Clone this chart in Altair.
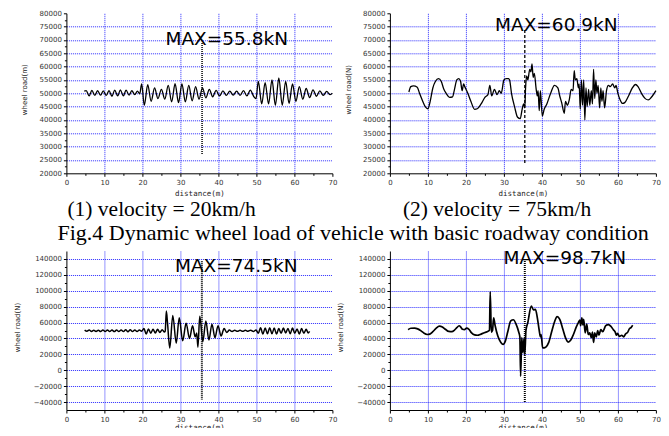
import altair as alt
import pandas as pd

# ---------------- data ----------------
X_TICKS = [0, 10, 20, 30, 40, 50, 60, 70]
X_MINOR = [5, 15, 25, 35, 45, 55, 65]
Y_TICKS_TOP = [20000, 25000, 30000, 35000, 40000, 45000, 50000, 55000,
               60000, 65000, 70000, 75000, 80000]
Y_MINOR_TOP = [22500, 27500, 32500, 37500, 42500, 47500, 52500, 57500,
               62500, 67500, 72500, 77500]
Y_TICKS_BOT = [-40000, -20000, 0, 20000, 40000, 60000, 80000, 100000,
               120000, 140000]
Y_MINOR_BOT = [-30000, -10000, 10000, 30000, 50000, 70000, 90000, 110000,
               130000]

# (1) velocity = 20km/h
s1 = [(4.7, 50800), (5.2, 51000), (6.0, 49000), (6.7, 51100), (7.5, 49200),
      (8.2, 51000), (9.0, 49300), (9.7, 50900), (10.5, 49200), (11.2, 51000),
      (12.0, 48900), (12.7, 51200), (13.5, 49000), (14.2, 51300), (15.0, 49000),
      (15.7, 51200), (16.5, 49300), (17.2, 51000), (18.0, 49500), (18.7, 50800),
      (19.3, 49800), (19.8, 53500), (20.5, 45500), (21.4, 53200), (22.3, 47000),
      (23.2, 52000), (24.1, 48000), (25.0, 51500), (25.9, 47800), (26.8, 53000),
      (27.7, 46800), (28.6, 53600), (29.5, 46500), (30.4, 53500), (31.3, 46800),
      (32.2, 53000), (33.1, 47200), (34.0, 52500), (34.9, 47800), (35.8, 52000),
      (36.7, 48300), (37.6, 51500), (38.5, 48700), (39.4, 51100), (40.3, 49000),
      (41.2, 50900), (42.1, 49200), (43.0, 50800), (43.9, 49300), (44.8, 50800),
      (45.7, 49200), (46.6, 51000), (47.5, 49000), (48.4, 51200), (49.3, 48800),
      (49.9, 48000), (50.5, 54500), (51.4, 46000), (52.3, 54000), (53.2, 46000),
      (54.1, 55000), (55.0, 45500), (55.9, 55800), (56.8, 45500), (57.7, 54500),
      (58.6, 46200), (59.5, 53500), (60.4, 47000), (61.3, 52500), (62.2, 47800),
      (63.1, 51800), (64.0, 48400), (64.9, 51300), (65.8, 48900), (66.7, 50900),
      (67.6, 49200), (68.5, 50700), (69.4, 49500), (70.0, 50000)]

# (2) velocity = 75km/h
s2 = [(5.0, 50500), (5.5, 52500), (6.2, 52800), (7.2, 52300), (7.8, 50000),
      (8.5, 47500), (9.3, 45000), (10.0, 44200), (10.6, 47000), (11.3, 52000),
      (12.0, 54500), (12.8, 55500), (13.5, 54500), (14.2, 51500), (14.8, 50000),
      (15.7, 48500), (16.5, 48700), (17.0, 51500), (17.6, 55000), (18.1, 55500),
      (18.6, 54500), (19.0, 51000), (19.4, 53500), (19.7, 52500), (20.5, 50000),
      (21.3, 47000), (22.3, 44000), (23.0, 44200), (24.0, 46000), (25.0, 48500),
      (25.8, 49500), (26.3, 53000), (26.8, 49000), (27.5, 51500), (28.2, 49500),
      (28.8, 51000), (29.3, 50000), (30.0, 55000), (30.6, 55500), (31.2, 55500),
      (31.5, 55000), (32.0, 50000), (32.8, 45000), (33.6, 41000), (34.3, 40500),
      (34.8, 44000), (35.2, 46000), (35.5, 44500), (35.7, 52000), (36.0, 56500),
      (36.3, 55000), (36.8, 59000), (37.1, 58000), (37.4, 61000), (37.7, 56000),
      (38.0, 57500), (38.5, 51500), (38.8, 49000), (39.0, 51000), (39.3, 43500),
      (39.6, 51000), (40.1, 41500), (40.6, 44000), (41.3, 46000), (42.3, 50000),
      (43.3, 53000), (44.2, 52000), (44.7, 49000), (45.2, 46500), (45.9, 42500),
      (46.2, 47000), (46.7, 45500), (47.2, 47500), (47.7, 51500), (48.2, 51000),
      (48.5, 58500), (48.8, 55000), (49.2, 55500), (49.6, 52000), (49.8, 53500),
      (50.1, 44000), (50.4, 55000), (50.7, 45500), (51.0, 55000), (51.3, 40000),
      (51.6, 52000), (51.9, 45000), (52.3, 51500), (52.6, 45500), (53.0, 51000),
      (53.3, 46000), (53.6, 59000), (53.9, 48000), (54.2, 55000), (54.5, 50000),
      (54.8, 53000), (55.2, 44500), (55.5, 52000), (55.8, 47000), (56.1, 51000),
      (56.5, 44500), (57.0, 51000), (57.5, 53000), (58.0, 52500), (58.6, 53500),
      (59.2, 52000), (59.5, 53000), (60.0, 50000), (60.6, 47500), (61.2, 46200),
      (61.8, 46500), (62.8, 49000), (63.8, 52000), (64.6, 53300), (65.3, 52500),
      (66.2, 50000), (67.2, 48000), (68.0, 47500), (68.8, 48500), (70.0, 51000)]

# (3) lower left
s3 = [(4.8, 50500), (5.4, 49000), (6.0, 50500), (6.6, 48800), (7.2, 50300),
      (7.8, 48800), (8.4, 50400), (9.0, 48700), (9.6, 50500), (10.2, 48800),
      (10.8, 50600), (11.4, 48700), (12.0, 50500), (12.6, 48600), (13.2, 50500),
      (13.8, 48700), (14.4, 50700), (15.0, 48600), (15.6, 50800), (16.2, 48500),
      (16.8, 50800), (17.4, 48600), (18.0, 50700), (18.6, 48700), (19.2, 50600),
      (19.8, 49000), (20.4, 52500), (21.0, 45500), (21.6, 52000), (22.2, 46500),
      (22.8, 51500), (23.4, 47000), (24.0, 51500), (24.6, 47500), (25.2, 51000),
      (25.8, 48000), (26.0, 49000), (26.3, 74500), (26.6, 60000), (27.2, 28000),
      (28.0, 69000), (28.9, 34000), (29.7, 66000), (30.6, 37000), (31.5, 59000),
      (32.4, 40000), (33.2, 56000), (33.9, 42000), (34.3, 47000), (34.6, 29000),
      (35.1, 68000), (35.9, 36000), (36.7, 62000), (37.5, 38000), (38.3, 58000),
      (39.1, 41000), (39.9, 56000), (40.7, 43000), (41.5, 52500), (42.2, 47500),
      (42.9, 50500), (43.6, 48800), (44.3, 50300), (45.0, 49000), (45.7, 50200),
      (46.4, 49000), (47.1, 50300), (47.8, 49000), (48.5, 50400), (49.2, 48800),
      (49.9, 50600), (50.5, 46500), (51.1, 53500), (51.7, 45500), (52.3, 53000),
      (52.9, 46000), (53.5, 53500), (54.1, 46000), (54.7, 53000), (55.3, 45500),
      (55.9, 52500), (56.5, 46500), (57.1, 53000), (57.7, 47000), (58.3, 52500),
      (58.9, 46000), (59.5, 53000), (60.1, 46500), (60.7, 52000), (61.3, 45500),
      (61.9, 52500), (62.5, 46500), (63.1, 51500), (63.6, 47000), (64.0, 49000)]

# (4) lower right
s4 = [(4.8, 51000), (5.5, 52800), (6.5, 53000), (7.3, 52000), (8.2, 49500),
      (9.0, 46500), (9.8, 45000), (10.5, 45500), (11.3, 48500), (12.2, 53000),
      (13.0, 55500), (13.8, 54500), (14.6, 51500), (15.5, 48800), (16.3, 48500),
      (17.0, 50500), (17.6, 53500), (18.2, 56000), (18.7, 54000), (19.1, 51500),
      (19.6, 51000), (20.2, 53000), (20.8, 51500), (21.5, 47000), (22.3, 44500),
      (23.0, 44000), (24.0, 45500), (25.0, 47500), (26.0, 49500), (26.2, 50500),
      (26.4, 98700), (26.7, 48000), (27.0, 50000), (27.3, 66000), (27.7, 56000),
      (28.4, 43000), (29.2, 35000), (29.8, 32500), (30.4, 37000), (31.0, 48000),
      (31.8, 62000), (32.5, 63500), (33.2, 58000), (33.9, 48000), (34.2, 42000),
      (34.4, -7500), (34.7, 41000), (35.0, 22000), (35.3, 40000), (35.5, 20000),
      (35.8, 50000), (36.3, 60000), (37.2, 80700), (37.8, 76000), (38.3, 76500),
      (38.8, 66000), (39.3, 50000), (39.6, 42000), (39.8, 45000), (40.2, 28000),
      (41.0, 29000), (41.8, 35000), (42.6, 49000), (43.4, 62000), (44.0, 67500),
      (44.7, 64000), (45.5, 52000), (46.2, 41000), (46.9, 35500), (47.6, 38000),
      (48.3, 45000), (49.0, 54000), (49.6, 60000), (50.0, 63000), (50.2, 56000),
      (50.5, 66000), (50.8, 57000), (51.0, 64000), (51.4, 47000), (51.8, 58000),
      (52.2, 45000), (52.6, 47000), (53.0, 41000), (53.3, 48000), (53.6, 35000),
      (53.9, 47000), (54.3, 42000), (54.7, 50000), (55.0, 44000), (55.5, 51000),
      (56.0, 48500), (56.8, 56000), (57.5, 57500), (58.2, 55000), (58.8, 51000),
      (59.3, 48000), (59.6, 44000), (59.9, 46500), (60.4, 42500), (61.0, 44000),
      (61.5, 42000), (62.0, 45500), (62.6, 48000), (63.0, 52000), (63.5, 54000),
      (63.9, 56500)]

MAX_LABELS = ["MAX=55.8kN", "MAX=60.9kN", "MAX=74.5kN", "MAX=98.7kN"]
MAX_POS = [(42.2, 70400), (43.8, 75600), (44.7, 131600), (46.0, 141600)]
VLINES = [(35.7, 68900, 26900), (35.5, 73700, 23200),
          (35.65, 137000, -37000), (35.5, 140000, -40000)]
CAPTIONS = ["(1) velocity = 20km/h", "(2) velocity = 75km/h"]
FIG_CAPTION = "Fig.4 Dynamic wheel load of vehicle with basic roadway condition"
Y_TITLES = ["wheel road(m)", "wheel road(N)", "wheel road(N)", "wheel road(N)"]
X_TITLE = "distance(m)"

# ---------------- styling ----------------
W = 266
GRID_BLUE = "#2a2aff"


def panel(series, ydom, yticks, yminor, hide_vals, ytitle, xtitle_y, label,
          mpos, vline, vdash, vwidth, lw, height, title, title_x):
    xs = alt.Scale(domain=[0, 70], nice=False, zero=False)
    ys = alt.Scale(domain=ydom, nice=False, zero=False)
    test_y = " || ".join("datum.value == %d" % v for v in hide_vals) or "false"
    xaxis = alt.Axis(values=X_TICKS, title=X_TITLE, grid=True, format="d",
                     gridOpacity={"condition": {"test": "datum.value == 0 || datum.value == 70", "value": 0}, "value": 1},
                     titleFont="DejaVu Sans Mono", titleFontSize=7.5,
                     titleFontWeight="normal", titleColor="#222",
                     titleY=xtitle_y, titleBaseline="middle", orient="bottom")
    yaxis = alt.Axis(values=yticks, title=ytitle, grid=True, format="d",
                     gridOpacity={"condition": {"test": test_y, "value": 0}, "value": 1},
                     titleFont="DejaVu Sans", titleFontSize=7,
                     titleFontWeight="normal", titleColor="#222",
                     titleX=title_x, titleY=76, titleAngle=270,
                     titleAlign="center", titleBaseline="middle", orient="left")
    minor_x = alt.Axis(values=X_MINOR, labels=False, grid=False, domain=False,
                       tickSize=2, title=None, orient="bottom")
    minor_y = alt.Axis(values=yminor, labels=False, grid=False, domain=False,
                       tickSize=2, title=None, orient="left")
    df = pd.DataFrame(series, columns=["x", "y"])
    line = alt.Chart(df).mark_line(color="black", strokeWidth=lw,
                                   interpolate="monotone").encode(
        x=alt.X("x:Q", scale=xs, axis=xaxis),
        y=alt.Y("y:Q", scale=ys, axis=yaxis))
    minor = alt.Chart(df).mark_line(opacity=0).encode(
        x=alt.X("x:Q", scale=xs, axis=minor_x),
        y=alt.Y("y:Q", scale=ys, axis=minor_y))
    vdf = pd.DataFrame({"x": [vline[0]], "y": [vline[1]], "y2": [vline[2]]})
    rule = alt.Chart(vdf).mark_rule(color="black", strokeDash=vdash,
                                    strokeWidth=vwidth).encode(
        x=alt.X("x:Q", scale=xs, axis=None),
        y=alt.Y("y:Q", scale=ys, axis=None), y2="y2:Q")
    tdf = pd.DataFrame({"x": [mpos[0]], "y": [mpos[1]], "t": [label]})
    text = alt.Chart(tdf).mark_text(font="DejaVu Sans", fontSize=18.5,
                                    align="center", baseline="middle",
                                    color="black").encode(
        x=alt.X("x:Q", scale=xs, axis=None),
        y=alt.Y("y:Q", scale=ys, axis=None), text="t:N")
    return alt.layer(minor, line, rule, text).resolve_axis(
        x="independent", y="independent").properties(
        width=W, height=height, title=title)


cap_style = dict(font="Liberation Serif", fontSize=21.5, fontWeight="normal",
                 color="black", anchor="start", orient="bottom", offset=2,
                 frame="group")

p1 = panel(s1, [20000, 80000], Y_TICKS_TOP, Y_MINOR_TOP, [20000, 80000],
           Y_TITLES[0], 20, MAX_LABELS[0], MAX_POS[0], VLINES[0], [1, 1], 1.5,
           1.3, 160, alt.TitleParams(CAPTIONS[0], dx=1, **cap_style), -41.5)
p2 = panel(s2, [20000, 80000], Y_TICKS_TOP, Y_MINOR_TOP, [20000, 80000],
           Y_TITLES[1], 20, MAX_LABELS[1], MAX_POS[1], VLINES[1], [3, 2], 1.3,
           1.3, 160, alt.TitleParams(CAPTIONS[1], dx=13, **cap_style), -41.5)
p3 = panel(s3, [-50000, 150000], Y_TICKS_BOT, Y_MINOR_BOT, [], Y_TITLES[2],
           17.5, MAX_LABELS[2], MAX_POS[2], VLINES[2], [1, 1], 2, 1.5, 159,
           alt.TitleParams(FIG_CAPTION, font="Liberation Serif", fontSize=22,
                           fontWeight="normal", color="black", anchor="start",
                           orient="top", dx=-9, offset=6, frame="group"), -49)
p4 = panel(s4, [-50000, 150000], Y_TICKS_BOT, Y_MINOR_BOT, [], Y_TITLES[3],
           17.5, MAX_LABELS[3], MAX_POS[3], VLINES[3], [1, 1], 2, 1.7, 159,
           "", -49)

PAD_L, PAD_T = 58.4, 5.3
SVG_W, SVG_H = 653, 420
chart = alt.concat(p1, p2, p3, p4, columns=2).properties(
    spacing={"row": 77.7, "column": 57.5},
    bounds="flush",
    autosize=alt.AutoSizeParams(type="none"),
    padding={"left": PAD_L, "top": PAD_T, "right": SVG_W - PAD_L,
             "bottom": SVG_H - PAD_T},
).configure_view(stroke=None).configure_axis(
    domainColor="black", domainWidth=1, tickColor="black", tickSize=3,
    tickWidth=1, labelFont="DejaVu Sans", labelFontSize=7, labelColor="#333",
    labelPadding=2, gridColor=GRID_BLUE, gridDash=[1, 1], gridWidth=1,
    labelFlush=False, labelOverlap=False,
).configure_axisX(labelBaseline="top")

chart.save("out.html", embed_options={"renderer": "svg", "actions": False})
